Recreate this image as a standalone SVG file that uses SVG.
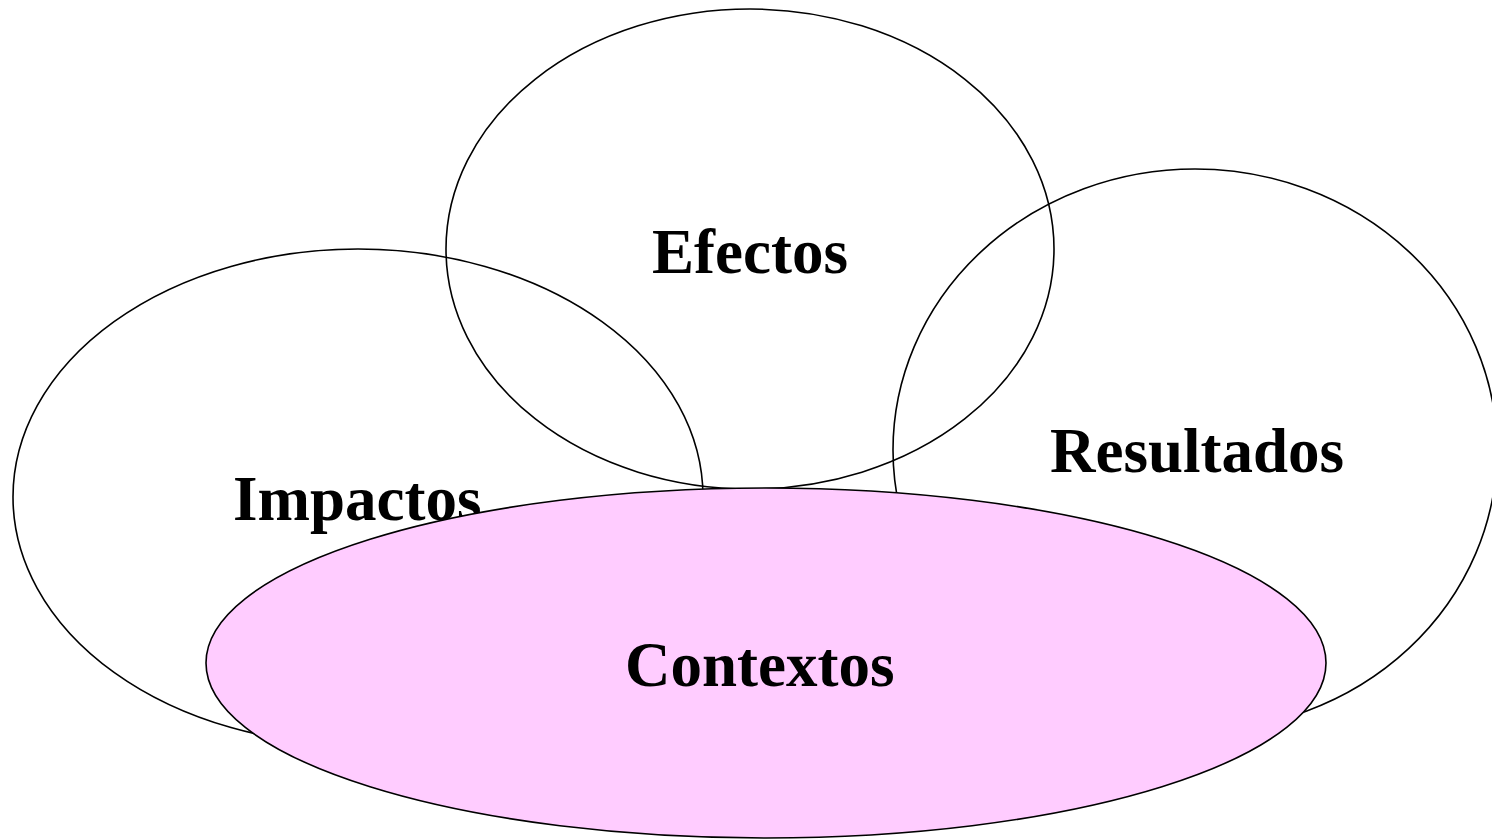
<svg xmlns="http://www.w3.org/2000/svg" width="1492" height="839" viewBox="0 0 1492 839">
<style>
.e{fill:none;stroke:#000;stroke-width:1.6}
.ctx{fill:#FFCCFF;stroke:#000;stroke-width:1.6}
.t{font-family:"Liberation Serif","Times New Roman",serif;font-weight:bold;font-size:63px;fill:#000}
</style>
<rect width="1492" height="839" fill="#fff"/>
<g id="impactos">
<ellipse class="e" cx="358" cy="497" rx="345" ry="248"/>
<text class="t" x="233" y="520">Impactos</text>
</g>
<g id="efectos">
<ellipse class="e" cx="750" cy="249" rx="304" ry="240"/>
<text class="t" x="652" y="273">Efectos</text>
</g>
<g id="resultados">
<ellipse class="e" cx="1195" cy="450" rx="302" ry="281"/>
<text class="t" x="1050" y="472">Resultados</text>
</g>
<g id="contextos">
<ellipse class="ctx" cx="766" cy="663" rx="560" ry="175"/>
<text class="t" x="625" y="686">Contextos</text>
</g>
<g id="connectors"/>
</svg>
